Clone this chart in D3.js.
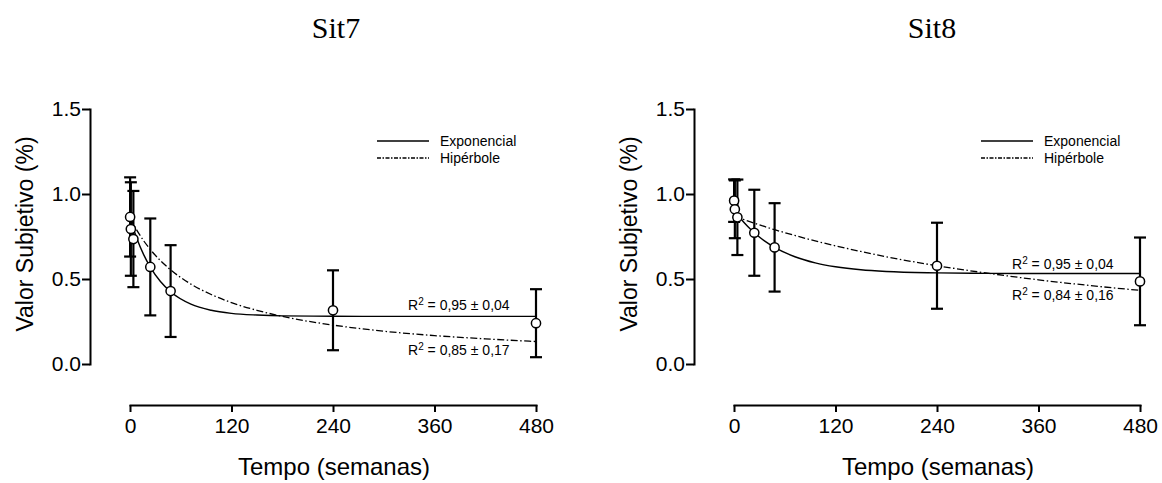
<!DOCTYPE html>
<html>
<head>
<meta charset="utf-8">
<script src="https://cdn.jsdelivr.net/npm/d3@7"></script>
<style>
  body { margin: 0; background: #fff; }
  svg text { font-family: Arial, "Liberation Sans", sans-serif; fill: #000; }
  .axis path, .axis line { stroke: #000; stroke-width: 2; }
  .axis text { font-size: 21px; font-family: Arial, "Liberation Sans", sans-serif; }
</style>
</head>
<body>
<svg id="chart" width="1162" height="483"></svg>
<script>
// time points (weeks)
var semanas = [0.14, 1, 4, 24, 48, 240, 480];

// Sit7 observed means and error bars
var sit7Media = [0.865, 0.794, 0.735, 0.571, 0.429, 0.316, 0.240];
var sit7Erro = [0.233, 0.275, 0.283, 0.285, 0.270, 0.235, 0.200];

// Sit8 observed means and error bars
var sit8Media = [0.961, 0.910, 0.863, 0.772, 0.686, 0.578, 0.486];
var sit8Erro = [0.125, 0.170, 0.222, 0.253, 0.260, 0.253, 0.258];

// fitted curves
var curvaX = [0, 4, 8, 16, 24, 36, 48, 72, 96, 120, 150, 180, 240, 300, 360, 420, 480];
var sit7Exp = [0.86, 0.797, 0.740, 0.645, 0.570, 0.485, 0.425, 0.352, 0.316, 0.298, 0.288, 0.283, 0.281, 0.280, 0.280, 0.280, 0.280];
var sit7Hip = [0.86, 0.822, 0.788, 0.726, 0.674, 0.608, 0.554, 0.470, 0.409, 0.361, 0.316, 0.280, 0.229, 0.193, 0.167, 0.148, 0.132];
var sit8Exp = [0.905, 0.879, 0.854, 0.810, 0.772, 0.724, 0.686, 0.631, 0.595, 0.572, 0.554, 0.544, 0.536, 0.533, 0.532, 0.532, 0.532];
var sit8Hip = [0.87, 0.863, 0.856, 0.842, 0.828, 0.809, 0.790, 0.756, 0.724, 0.695, 0.662, 0.631, 0.578, 0.534, 0.495, 0.462, 0.433];

var xTicks = [0, 120, 240, 360, 480];
var yTicks = [0, 0.5, 1.0, 1.5];
var legendas = ["Exponencial", "Hipérbole"];

var svg = d3.select("#chart");

function drawPanel(opt) {
    var g = svg.append("g").attr("transform", "translate(" + opt.dx + ",0)");

    var x = d3.scaleLinear().domain([0, 480]).range([130, 536]);
    var y = d3.scaleLinear().domain([0, 1.5]).range([364, 109]);

    // title
    g.append("text")
        .attr("x", opt.tituloX).attr("y", 38)
        .attr("text-anchor", "middle")
        .style("font-family", "'Liberation Serif', 'Times New Roman', serif")
        .style("font-size", "30px")
        .text(opt.titulo);

    // axes
    var yAxis = d3.axisLeft(y).tickValues(yTicks).tickFormat(d3.format(".1f"))
        .tickSize(8).tickSizeOuter(0).tickPadding(1);
    g.append("g").attr("class", "axis")
        .attr("transform", "translate(90,0)")
        .call(yAxis);

    var xAxis = d3.axisBottom(x).tickValues(xTicks).tickFormat(d3.format("d"))
        .tickSize(7).tickSizeOuter(0).tickPadding(6);
    g.append("g").attr("class", "axis")
        .attr("transform", "translate(0,405)")
        .call(xAxis);

    g.selectAll(".axis path").attr("stroke-linecap", "square");

    g.append("text")
        .attr("transform", "translate(33,234) rotate(-90)")
        .attr("text-anchor", "middle")
        .style("font-size", "23px")
        .text("Valor Subjetivo (%)");

    g.append("text")
        .attr("x", 334).attr("y", 475)
        .attr("text-anchor", "middle")
        .style("font-size", "24px")
        .text("Tempo (semanas)");

    // fitted lines
    var line = d3.line()
        .curve(d3.curveMonotoneX)
        .x(function (d) { return x(d[0]); })
        .y(function (d) { return y(d[1]); });

    g.append("path")
        .datum(d3.zip(curvaX, opt.exp))
        .attr("fill", "none").attr("stroke", "#000").attr("stroke-width", 1.4)
        .attr("d", line);

    g.append("path")
        .datum(d3.zip(curvaX, opt.hip))
        .attr("fill", "none").attr("stroke", "#000").attr("stroke-width", 1.3)
        .attr("stroke-dasharray", "7,2.5,1.5,2.5")
        .attr("d", line);

    // error bars
    var pts = semanas.map(function (s, i) {
        return { x: s, m: opt.media[i], e: opt.erro[i] };
    });

    var eb = g.selectAll(".eb").data(pts).enter().append("g").attr("class", "eb");
    eb.append("line")
        .attr("x1", function (d) { return x(d.x); })
        .attr("x2", function (d) { return x(d.x); })
        .attr("y1", function (d) { return y(d.m - d.e); })
        .attr("y2", function (d) { return y(d.m + d.e); })
        .attr("stroke", "#000").attr("stroke-width", 2.2);
    [-1, 1].forEach(function (s) {
        eb.append("line")
            .attr("x1", function (d) { return x(d.x) - 6; })
            .attr("x2", function (d) { return x(d.x) + 6; })
            .attr("y1", function (d) { return y(d.m + s * d.e); })
            .attr("y2", function (d) { return y(d.m + s * d.e); })
            .attr("stroke", "#000").attr("stroke-width", 2.2);
    });

    g.selectAll(".pt").data(pts).enter().append("circle")
        .attr("cx", function (d) { return x(d.x); })
        .attr("cy", function (d) { return y(d.m); })
        .attr("r", 4.6)
        .attr("fill", "#fff").attr("stroke", "#000").attr("stroke-width", 1.5);

    // legend
    var leg = g.selectAll(".leg").data(legendas).enter().append("g")
        .attr("transform", function (d, i) { return "translate(0," + (141 + i * 17) + ")"; });
    leg.append("line")
        .attr("x1", 377).attr("x2", 429)
        .attr("stroke", "#000")
        .attr("stroke-width", function (d, i) { return i ? 1.3 : 1.6; })
        .attr("stroke-dasharray", function (d, i) { return i ? "4,1.5,1.5,1.5" : null; });
    leg.append("text")
        .attr("x", 440).attr("y", 5)
        .style("font-size", "14px")
        .text(function (d) { return d; });

    // R2 labels
    opt.r2.forEach(function (r) {
        var t = g.append("text").attr("x", 408).attr("y", r.y).style("font-size", "14px");
        t.append("tspan").text("R");
        t.append("tspan").attr("dy", -5).style("font-size", "10px").text("2");
        t.append("tspan").attr("dy", 5).text(" = " + r.txt);
    });
}

drawPanel({
    dx: 0, titulo: "Sit7", tituloX: 336,
    media: sit7Media, erro: sit7Erro, exp: sit7Exp, hip: sit7Hip,
    r2: [{ y: 310, txt: "0,95 ± 0,04" }, { y: 355, txt: "0,85 ± 0,17" }]
});

drawPanel({
    dx: 604, titulo: "Sit8", tituloX: 328,
    media: sit8Media, erro: sit8Erro, exp: sit8Exp, hip: sit8Hip,
    r2: [{ y: 269, txt: "0,95 ± 0,04" }, { y: 300, txt: "0,84 ± 0,16" }]
});
</script>
</body>
</html>
